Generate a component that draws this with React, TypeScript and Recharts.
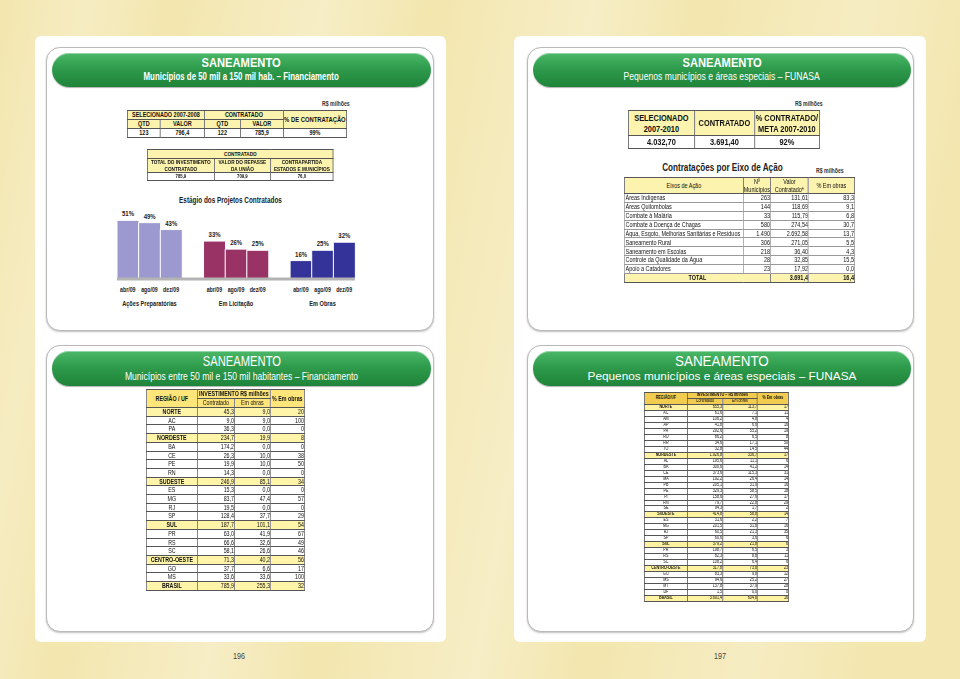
import React from "react";
import { BarChart, Bar, Cell, XAxis, YAxis, LabelList } from "recharts";

// ---- chart data: Estágio dos Projetos Contratados ----
const stages = ["Ações Preparatórias", "Em Licitação", "Em Obras"];
const months = ["abr/09", "ago/09", "dez/09"];
const stageShare = [
  [51, 49, 43],
  [33, 26, 25],
  [16, 25, 32],
];
const stageColors = ["#9B99CF", "#993366", "#333399"];

// ---- table data ----
const selHead = ["SELECIONADO 2007-2008", "CONTRATADO", "% DE CONTRATAÇÃO"];
const selRow = ["123", "796,4", "122", "785,9", "99%"];
const contrHead = ["TOTAL DO INVESTIMENTO CONTRATADO", "VALOR DO REPASSE DA UNIÃO", "CONTRAPARTIDA ESTADOS E MUNICÍPIOS"];
const contrRow = ["785,9", "709,9", "76,0"];

const funasaHead = ["SELECIONADO 2007-2010", "CONTRATADO", "% CONTRATADO/ META 2007-2010"];
const funasaRow = ["4.032,70", "3.691,40", "92%"];

const eixos = [
  ["Áreas Indígenas", "263", "131,61", "83,3"],
  ["Áreas Quilombolas", "144", "118,69", "9,1"],
  ["Combate à Malária", "33", "115,79", "6,8"],
  ["Combate à Doença de Chagas", "580", "274,54", "30,7"],
  ["Água, Esgoto, Melhorias Sanitárias e Resíduos", "1.490", "2.692,58", "13,7"],
  ["Saneamento Rural", "306", "271,05", "5,5"],
  ["Saneamento em Escolas", "218", "36,40", "4,3"],
  ["Controle da Qualidade da Água", "28", "32,85", "15,5"],
  ["Apoio a Catadores", "23", "17,92", "0,0"],
];
const eixosTotal = ["3.691,4", "16,4"];

const regioes50 = [
  ["NORTE", "45,3", "9,0", "20", 1],
  ["AC", "9,0", "9,0", "100", 0],
  ["PA", "36,3", "0,0", "0", 0],
  ["NORDESTE", "234,7", "19,9", "8", 1],
  ["BA", "174,2", "0,0", "0", 0],
  ["CE", "26,3", "10,0", "38", 0],
  ["PE", "19,9", "10,0", "50", 0],
  ["RN", "14,3", "0,0", "0", 0],
  ["SUDESTE", "246,9", "85,1", "34", 1],
  ["ES", "15,3", "0,0", "0", 0],
  ["MG", "83,7", "47,4", "57", 0],
  ["RJ", "19,5", "0,0", "0", 0],
  ["SP", "128,4", "37,7", "29", 0],
  ["SUL", "187,7", "101,1", "54", 1],
  ["PR", "63,0", "41,9", "67", 0],
  ["RS", "66,6", "32,6", "49", 0],
  ["SC", "58,1", "26,6", "46", 0],
  ["CENTRO-OESTE", "71,3", "40,2", "56", 1],
  ["GO", "37,7", "6,6", "17", 0],
  ["MS", "33,6", "33,6", "100", 0],
  ["BRASIL", "785,9", "255,3", "32", 1],
];

const regioesFunasa = [
  ["NORTE", "655,3", "113,7", "17", 1],
  ["AC", "61,6", "7,1", "11", 0],
  ["AM", "106,2", "4,8", "4", 0],
  ["AP", "41,8", "6,6", "16", 0],
  ["PA", "292,6", "55,2", "19", 0],
  ["RO", "86,2", "6,5", "8", 0],
  ["RR", "34,6", "17,1", "50", 0],
  ["TO", "32,8", "14,5", "44", 0],
  ["NORDESTE", "1.926,8", "336,7", "17", 1],
  ["AL", "195,6", "11,1", "6", 0],
  ["BA", "300,6", "41,2", "14", 0],
  ["CE", "373,6", "115,3", "31", 0],
  ["MA", "192,2", "26,4", "14", 0],
  ["PB", "205,1", "31,9", "16", 0],
  ["PE", "329,3", "58,5", "18", 0],
  ["PI", "158,6", "27,6", "17", 0],
  ["RN", "79,7", "22,8", "29", 0],
  ["SE", "94,3", "1,7", "2", 0],
  ["SUDESTE", "414,8", "58,8", "14", 1],
  ["ES", "31,6", "2,2", "7", 0],
  ["MG", "201,5", "31,8", "16", 0],
  ["RJ", "60,5", "21,3", "35", 0],
  ["SP", "60,6", "3,6", "6", 0],
  ["SUL", "379,2", "21,8", "6", 1],
  ["PR", "198,7", "6,5", "3", 0],
  ["RS", "82,3", "8,8", "11", 0],
  ["SC", "108,2", "6,4", "6", 0],
  ["CENTRO-OESTE", "317,8", "73,8", "23", 1],
  ["GO", "83,3", "9,8", "12", 0],
  ["MS", "94,6", "25,2", "27", 0],
  ["MT", "137,8", "37,9", "28", 0],
  ["DF", "1,5", "0,0", "0", 0],
  ["BRASIL", "3.691,4", "604,8", "16", 1],
];

// bar rows: 3 groups with an empty slot between them
const barRows: any[] = [];
stages.forEach((stage, g) => {
  if (g > 0) barRows.push({ key: `gap${g}`, value: null, group: -1, month: "", stage: "" });
  months.forEach((m, i) => {
    barRows.push({ key: `${g}-${i}`, value: stageShare[g][i], group: g, month: m, stage: i === 1 ? stage : "" });
  });
});

const SANS = '"Liberation Sans", Arial, sans-serif';
const HEAD_Y = "#FBF3AE";

function StageTick(props: any) {
  const { x, y, index } = props;
  const row = barRows[index];
  if (!row) return null;
  return (
    <g fontFamily={SANS} fontWeight="bold" fill="#222">
      <text transform={`translate(${x},${y + 5}) scale(0.75,1)`} textAnchor="middle" fontSize={7}>
        {row.month}
      </text>
      {row.stage && (
        <text transform={`translate(${x},${y + 18.5}) scale(0.75,1)`} textAnchor="middle" fontSize={7.5}>
          {row.stage}
        </text>
      )}
    </g>
  );
}

function ValueLabel(props: any) {
  const { x, y, width, value } = props;
  if (value == null) return null;
  return (
    <text
      transform={`translate(${x + width / 2},${y - 4}) scale(0.8,1)`}
      textAnchor="middle"
      fontSize={7.5}
      fontWeight="bold"
      fontFamily={SANS}
      fill="#222"
    >
      {`${value}%`}
    </text>
  );
}

function StageChart() {
  return (
    <div style={{ position: "absolute", left: 100, top: 190, width: 300, height: 130 }}>
      <div
        style={{
          position: "absolute",
          left: 0,
          right: 0,
          top: 5,
          textAlign: "center",
          fontFamily: SANS,
          fontWeight: "bold",
          fontSize: 8.5,
          color: "#222",
        }}
      >
        <span style={{ display: "inline-block", transform: "scaleX(0.75)", whiteSpace: "nowrap", marginLeft: -40 }}>
          Estágio dos Projetos Contratados
        </span>
      </div>
      <BarChart width={300} height={130} data={barRows} margin={{ top: 20, right: 45, bottom: 11, left: 17 }} barCategoryGap={0} barGap={0}>
        <XAxis dataKey="key" height={30} tickLine={false} axisLine={{ stroke: "#B3B3B3", strokeWidth: 3 }} tick={<StageTick />} interval={0} />
        <YAxis hide domain={[0, 60]} />
        <Bar dataKey="value" isAnimationActive={false} stroke="#FFFFFF" strokeWidth={1}>
          {barRows.map((r, i) => (
            <Cell key={i} fill={r.group >= 0 ? stageColors[r.group] : "transparent"} />
          ))}
          <LabelList dataKey="value" content={<ValueLabel />} />
        </Bar>
      </BarChart>
    </div>
  );
}

function Sq({ s, children, style }: any) {
  return <span style={{ display: "inline-block", transform: `scaleX(${s})`, whiteSpace: "nowrap", ...style }}>{children}</span>;
}

function HeaderBar({ title, sub, big, ts, ss, bold }: any) {
  return (
    <div
      style={{
        position: "absolute",
        left: 5,
        right: 2,
        top: 5,
        height: big ? 35 : 34,
        borderRadius: 17,
        background: "linear-gradient(#4BB868 0%, #2F9B4C 45%, #1E8439 100%)",
        boxShadow: "inset 0 1px 0 rgba(255,255,255,0.4), 0 1px 1px rgba(0,0,0,0.3)",
        color: "#fff",
        textAlign: "center",
        fontFamily: SANS,
        overflow: "hidden",
      }}
    >
      <div style={{ fontSize: big ? 14 : 13, lineHeight: big ? "15px" : "14px", paddingTop: 3, fontWeight: big ? "normal" : "bold" }}>
        <Sq s={ts}>{title}</Sq>
      </div>
      <div style={{ fontSize: big ? (ss < 1 ? 11 : 11.8) : 10.5, lineHeight: big ? "15px" : "13px", fontWeight: bold ? "bold" : "normal" }}>
        <Sq s={ss}>{sub}</Sq>
      </div>
    </div>
  );
}

const cellBase: React.CSSProperties = {
  border: "1px solid #555",
  padding: 0,
  overflow: "hidden",
  whiteSpace: "nowrap",
};

function Panel({ left, top, width, height, children }: any) {
  return (
    <div
      style={{
        position: "absolute",
        left,
        top,
        width,
        height,
        border: "1.5px solid #B9B9B9",
        borderRadius: 14,
        boxShadow: "0 1px 2px rgba(0,0,0,0.25)",
        background: "#fff",
        boxSizing: "border-box",
      }}
    >
      {children}
    </div>
  );
}

// absolutely placed block, optionally squeezed horizontally (narrow typeface look)
function Abs({ left, top, s = 1, children, style }: any) {
  return (
    <div style={{ position: "absolute", left, top, transform: s !== 1 ? `scaleX(${s})` : undefined, transformOrigin: "0 0", ...style }}>
      {children}
    </div>
  );
}

function Cols({ cols, s }: { cols: number[]; s: number }) {
  return (
    <colgroup>
      {cols.map((w, i) => (
        <col key={i} style={{ width: w / s }} />
      ))}
    </colgroup>
  );
}

const sum = (a: number[]) => a.reduce((x, y) => x + y, 0);

function TopLeftTables() {
  const td = (extra: React.CSSProperties = {}): React.CSSProperties => ({ ...cellBase, textAlign: "center", ...extra });
  const hs = { background: HEAD_Y, fontWeight: "bold" as const };
  const s1 = 0.78;
  const c1 = [33, 44, 36, 43, 63];
  const c2 = [67, 56, 63];
  return (
    <>
      <Abs left={322} top={100} s={0.8} style={{ fontFamily: SANS, fontSize: 6.5, fontWeight: "bold", color: "#333", whiteSpace: "nowrap" }}>
        R$ milhões
      </Abs>
      <Abs left={127} top={110} s={s1}>
        <table style={{ borderCollapse: "collapse", fontFamily: SANS, fontSize: 7, lineHeight: "8px", color: "#111", tableLayout: "fixed", width: sum(c1) / s1 }}>
          <Cols cols={c1} s={s1} />
          <tbody>
            <tr style={{ height: 9 }}>
              <td colSpan={2} style={td(hs)}>{selHead[0]}</td>
              <td colSpan={2} style={td(hs)}>{selHead[1]}</td>
              <td rowSpan={2} style={td({ ...hs, fontSize: 7.5 })}>{selHead[2]}</td>
            </tr>
            <tr style={{ height: 9 }}>
              {["QTD", "VALOR", "QTD", "VALOR"].map((h, i) => (
                <td key={i} style={td(hs)}>{h}</td>
              ))}
            </tr>
            <tr style={{ height: 9 }}>
              {selRow.map((v, i) => (
                <td key={i} style={td({ fontWeight: "bold" })}>{v}</td>
              ))}
            </tr>
          </tbody>
        </table>
      </Abs>
      <Abs left={147} top={149} s={s1}>
        <table style={{ borderCollapse: "collapse", fontFamily: SANS, fontSize: 6, lineHeight: "6.5px", color: "#111", tableLayout: "fixed", width: sum(c2) / s1 }}>
          <Cols cols={c2} s={s1} />
          <tbody>
            <tr style={{ height: 9 }}>
              <td colSpan={3} style={td(hs)}>CONTRATADO</td>
            </tr>
            <tr style={{ height: 14 }}>
              {contrHead.map((h, i) => (
                <td key={i} style={td({ ...hs, whiteSpace: "normal" })}>{h}</td>
              ))}
            </tr>
            <tr style={{ height: 7 }}>
              {contrRow.map((v, i) => (
                <td key={i} style={td({ fontWeight: "bold", fontSize: 5.5 })}>{v}</td>
              ))}
            </tr>
          </tbody>
        </table>
      </Abs>
    </>
  );
}

function TopRightTables() {
  const td = (extra: React.CSSProperties = {}): React.CSSProperties => ({ ...cellBase, textAlign: "center", ...extra });
  const hs = { background: HEAD_Y, fontWeight: "bold" as const };
  const s1 = 0.78;
  const c1 = [66, 60, 65];
  const s2 = 0.75;
  const c2 = [119, 27, 38, 46];
  const thin = { ...cellBase, border: "1px solid #999" };
  return (
    <>
      <Abs left={795} top={100} s={0.8} style={{ fontFamily: SANS, fontSize: 6.5, fontWeight: "bold", color: "#333", whiteSpace: "nowrap" }}>
        R$ milhões
      </Abs>
      <Abs left={628} top={110} s={s1}>
        <table style={{ borderCollapse: "collapse", fontFamily: SANS, fontSize: 9.5, lineHeight: "11.5px", color: "#111", tableLayout: "fixed", width: sum(c1) / s1 }}>
          <Cols cols={c1} s={s1} />
          <tbody>
            <tr style={{ height: 25 }}>
              {funasaHead.map((h, i) => (
                <td key={i} style={td({ ...hs, whiteSpace: "normal" })}>{h}</td>
              ))}
            </tr>
            <tr style={{ height: 12 }}>
              {funasaRow.map((v, i) => (
                <td key={i} style={td({ fontWeight: "bold" })}>{v}</td>
              ))}
            </tr>
          </tbody>
        </table>
      </Abs>
      <Abs left={722} top={161} style={{ fontFamily: SANS, fontSize: 11, fontWeight: "bold", color: "#222", width: 0, display: "flex", justifyContent: "center" }}>
        <Sq s={0.74}>Contratações por Eixo de Ação</Sq>
      </Abs>
      <Abs left={816} top={167} s={0.8} style={{ fontFamily: SANS, fontSize: 6.5, fontWeight: "bold", color: "#333", whiteSpace: "nowrap" }}>
        R$ milhões
      </Abs>
      <Abs left={624} top={177} s={s2}>
        <table style={{ borderCollapse: "collapse", fontFamily: SANS, fontSize: 7.3, lineHeight: "7.5px", color: "#111", tableLayout: "fixed", width: sum(c2) / s2 }}>
          <Cols cols={c2} s={s2} />
          <tbody>
            <tr style={{ height: 16 }}>
              <td style={td({ background: HEAD_Y })}>Eixos de Ação</td>
              <td style={td({ background: HEAD_Y, whiteSpace: "normal" })}>Nº Municípios</td>
              <td style={td({ background: HEAD_Y, whiteSpace: "normal" })}>Valor Contratado*</td>
              <td style={td({ background: HEAD_Y })}>% Em obras</td>
            </tr>
            {eixos.map((r, i) => (
              <tr key={i} style={{ height: 8.9 }}>
                <td style={{ ...thin, textAlign: "left", paddingLeft: 1 }}>{r[0]}</td>
                <td style={{ ...thin, textAlign: "right" }}>{r[1]}</td>
                <td style={{ ...thin, textAlign: "right" }}>{r[2]}</td>
                <td style={{ ...thin, textAlign: "right" }}>{r[3]}</td>
              </tr>
            ))}
            <tr style={{ height: 9 }}>
              <td colSpan={2} style={td({ background: HEAD_Y, fontWeight: "bold" })}>TOTAL</td>
              <td style={{ ...cellBase, background: HEAD_Y, textAlign: "right", fontWeight: "bold" }}>{eixosTotal[0]}</td>
              <td style={{ ...cellBase, background: HEAD_Y, textAlign: "right", fontWeight: "bold" }}>{eixosTotal[1]}</td>
            </tr>
          </tbody>
        </table>
      </Abs>
    </>
  );
}

function RegionTable({ rows, left, top, cols, s, rowH, headH, fontSize, headBg, regBg, headTitle }: any) {
  const td = (extra: React.CSSProperties = {}): React.CSSProperties => ({ ...cellBase, textAlign: "center", ...extra });
  return (
    <Abs left={left} top={top} s={s}>
      <table style={{ borderCollapse: "collapse", fontFamily: SANS, fontSize, lineHeight: `${rowH - 1}px`, color: "#111", tableLayout: "fixed", width: sum(cols) / s }}>
        <Cols cols={cols} s={s} />
        <tbody>
          <tr style={{ height: headH }}>
            <td rowSpan={2} style={td({ background: headBg, fontWeight: "bold" })}>{headTitle[0]}</td>
            <td colSpan={2} style={td({ background: headBg, fontWeight: "bold" })}>{headTitle[1]}</td>
            <td rowSpan={2} style={td({ background: headBg, fontWeight: "bold" })}>{headTitle[2]}</td>
          </tr>
          <tr style={{ height: headH }}>
            <td style={td({ background: headBg })}>Contratado</td>
            <td style={td({ background: headBg })}>Em obras</td>
          </tr>
          {rows.map((r: any[], i: number) => {
            const bg = r[4] ? regBg : "#fff";
            return (
              <tr key={i} style={{ height: rowH, background: bg }}>
                <td style={td({ fontWeight: r[4] ? "bold" : "normal" })}>{r[0]}</td>
                <td style={td({ textAlign: "right" })}>{r[1]}</td>
                <td style={td({ textAlign: "right" })}>{r[2]}</td>
                <td style={td({ textAlign: "right" })}>{r[3]}</td>
              </tr>
            );
          })}
        </tbody>
      </table>
    </Abs>
  );
}

export default function App() {
  return (
    <div
      style={{
        position: "fixed",
        left: 0,
        top: 0,
        width: 960,
        height: 679,
        overflow: "hidden",
        background:
          "linear-gradient(100deg, rgba(255,255,255,0) 0%, rgba(255,255,255,0.25) 8%, rgba(255,255,255,0) 16%, rgba(255,255,255,0.3) 30%, rgba(255,255,255,0) 40%, rgba(255,255,255,0.3) 55%, rgba(255,255,255,0) 65%, rgba(255,255,255,0.25) 80%, rgba(255,255,255,0) 92%), #F3E6AE",
      }}
    >
      {/* pages */}
      <div style={{ position: "absolute", left: 35, top: 36, width: 411, height: 606, background: "#fff", borderRadius: 6 }} />
      <div style={{ position: "absolute", left: 514, top: 36, width: 412, height: 606, background: "#fff", borderRadius: 6 }} />

      <Panel left={46} top={47} width={388} height={284}>
        <HeaderBar title="SANEAMENTO" sub="Municípios de 50 mil a 150 mil hab. – Financiamento" ts={0.86} ss={0.75} bold />
      </Panel>
      <Panel left={527} top={47} width={387} height={284}>
        <HeaderBar title="SANEAMENTO" sub="Pequenos municípios e áreas especiais – FUNASA" ts={0.86} ss={0.82} />
      </Panel>
      <Panel left={46} top={345} width={388} height={287}>
        <HeaderBar title="SANEAMENTO" sub="Municípios entre 50 mil e 150 mil habitantes – Financiamento" big ts={0.8} ss={0.78} />
      </Panel>
      <Panel left={527} top={345} width={387} height={287}>
        <HeaderBar title="SANEAMENTO" sub="Pequenos municípios e áreas especiais – FUNASA" big ts={0.96} ss={1} />
      </Panel>

      <TopLeftTables />
      <StageChart />
      <TopRightTables />

      <RegionTable
        rows={regioes50}
        left={146}
        top={389}
        cols={[51, 37, 36, 34]}
        s={0.7}
        rowH={8.7}
        headH={9}
        fontSize={7.6}
        headBg="#FFE57A"
        regBg="#FFF4A8"
        headTitle={["REGIÃO / UF", "INVESTIMENTO R$ milhões", "% Em obras"]}
      />
      <RegionTable
        rows={regioesFunasa}
        left={644}
        top={392}
        cols={[43, 35, 35, 31]}
        s={0.8}
        rowH={5.97}
        headH={6}
        fontSize={4.6}
        headBg="#F2CC4E"
        regBg="#FFF2A0"
        headTitle={["REGIÃO/UF", "INVESTIMENTO – R$ milhões", "% Em obras"]}
      />

      <Abs left={233} top={651} s={0.8} style={{ fontFamily: SANS, fontSize: 9, color: "#444" }}>196</Abs>
      <Abs left={714} top={651} s={0.8} style={{ fontFamily: SANS, fontSize: 9, color: "#444" }}>197</Abs>
    </div>
  );
}
